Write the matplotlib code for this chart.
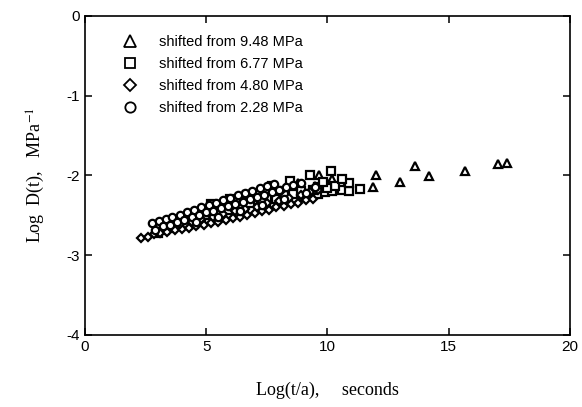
import matplotlib
matplotlib.use('Agg')
import matplotlib.pyplot as plt

# shifted from 9.48 MPa (triangles)
x_948 = [4.5, 5.0, 5.5, 6.0, 6.5, 7.0, 7.5, 8.0, 8.5, 9.0, 9.5, 10.0,
         5.3, 6.3, 7.3, 8.3, 8.8, 9.65, 10.2, 10.8,
         4.8, 5.8, 6.8, 7.8, 9.3, 6.0, 7.1, 8.6,
         11.88, 12.0, 12.99, 13.6, 14.19, 15.67, 17.03, 17.4]
y_948 = [-2.55, -2.50, -2.46, -2.42, -2.37, -2.33, -2.29, -2.25, -2.21, -2.17, -2.13, -2.10,
         -2.40, -2.32, -2.24, -2.15, -2.10, -2.00, -2.05, -2.09,
         -2.47, -2.39, -2.31, -2.21, -2.19, -2.50, -2.40, -2.27,
         -2.14, -1.99, -2.08, -1.88, -2.01, -1.94, -1.86, -1.84]

# shifted from 6.77 MPa (squares)
x_677 = [3.0, 3.3, 3.6, 3.9, 4.2, 4.5, 4.8, 5.1, 5.4, 5.7, 6.0, 6.3, 6.6, 6.9,
         7.2, 7.5, 7.8, 8.1, 8.4, 8.7, 9.0, 9.3, 9.6, 9.9, 10.2, 10.6, 10.9, 11.35,
         4.0, 4.7, 5.4, 6.1, 6.8, 7.5, 8.2, 8.9, 9.6, 10.3, 10.9,
         3.4, 4.4, 5.0, 5.9, 6.4, 7.3, 7.9, 8.6, 9.4, 10.0,
         5.2, 6.0, 6.7, 7.7, 8.45, 9.28, 10.15, 9.8, 10.6]
y_677 = [-2.72, -2.69, -2.66, -2.64, -2.62, -2.61, -2.58, -2.56, -2.53, -2.52, -2.49, -2.47, -2.46, -2.43,
         -2.41, -2.38, -2.36, -2.33, -2.31, -2.29, -2.27, -2.25, -2.23, -2.21, -2.19, -2.18, -2.20, -2.17,
         -2.55, -2.50, -2.44, -2.39, -2.34, -2.29, -2.24, -2.19, -2.15, -2.13, -2.10,
         -2.62, -2.55, -2.50, -2.43, -2.40, -2.33, -2.29, -2.23, -2.18, -2.16,
         -2.36, -2.30, -2.24, -2.13, -2.07, -2.00, -1.94, -2.08, -2.05]

# shifted from 4.80 MPa (diamonds)
x_480 = [2.3, 2.6, 2.85, 3.1, 3.4, 3.7, 4.0, 4.3, 4.6, 4.9, 5.2, 5.5, 5.8, 6.1, 6.4,
         6.7, 7.0, 7.3, 7.6, 7.9, 8.2, 8.5, 8.8, 9.1, 9.4,
         3.0, 3.5, 3.9, 4.4, 4.8, 5.3, 5.7, 6.2, 6.6, 7.1, 7.5, 8.0, 8.4, 8.9, 9.3,
         5.0, 6.0, 7.0, 8.1, 9.6]
y_480 = [-2.79, -2.77, -2.74, -2.72, -2.71, -2.69, -2.67, -2.66, -2.64, -2.62, -2.60, -2.58, -2.56, -2.54, -2.52,
         -2.50, -2.47, -2.45, -2.43, -2.40, -2.38, -2.36, -2.34, -2.31, -2.29,
         -2.65, -2.63, -2.61, -2.58, -2.55, -2.52, -2.48, -2.45, -2.42, -2.39, -2.35, -2.32, -2.28, -2.25, -2.21,
         -2.43, -2.35, -2.27, -2.20, -2.18]

# shifted from 2.28 MPa (circles)
x_228 = [2.75, 3.05, 3.35, 3.6, 3.9, 4.2, 4.5, 4.8, 5.1, 5.4, 5.7, 6.0, 6.3, 6.6, 6.9,
         7.2, 7.5, 7.8,
         2.9, 3.2, 3.5, 3.8, 4.1, 4.4, 4.7, 5.0, 5.3, 5.6, 5.9, 6.2, 6.5, 6.8, 7.1,
         7.4, 7.7, 8.0, 8.3, 8.6, 8.9, 4.6, 5.5, 6.4, 7.3, 8.2, 9.1, 9.5]
y_228 = [-2.60, -2.57, -2.55, -2.52, -2.49, -2.46, -2.43, -2.40, -2.37, -2.35, -2.31, -2.28, -2.25, -2.22, -2.19,
         -2.16, -2.13, -2.11,
         -2.68, -2.64, -2.62, -2.58, -2.56, -2.52, -2.50, -2.46, -2.45, -2.41, -2.38, -2.36, -2.33, -2.30, -2.27,
         -2.25, -2.21, -2.18, -2.15, -2.12, -2.10, -2.58, -2.52, -2.44, -2.37, -2.29, -2.22, -2.15]

labels = ['shifted from 9.48 MPa', 'shifted from 6.77 MPa',
          'shifted from 4.80 MPa', 'shifted from 2.28 MPa']

plt.rcParams['mathtext.fontset'] = 'stix'
plt.rcParams['axes.unicode_minus'] = False

fig = plt.figure(figsize=(5.82, 4.07), dpi=100)
ax = fig.add_axes([0.146, 0.177, 0.833, 0.784])

kw = dict(linestyle='none', mfc='white', mec='black', mew=1.6)
h1, = ax.plot(x_948, y_948, marker='^', markersize=5.8, label=labels[0], **kw)
h2, = ax.plot(x_677, y_677, marker='s', markersize=5.2, label=labels[1], **kw)
h3, = ax.plot(x_480, y_480, marker='D', markersize=4.4, label=labels[2], **kw)
h4, = ax.plot(x_228, y_228, marker='o', markersize=5.3, label=labels[3], **kw)

ax.set_xlim(0, 20)
ax.set_ylim(-4, 0)
ax.set_xticks([0, 5, 10, 15, 20])
ax.set_yticks([0, -1, -2, -3, -4])
ax.tick_params(direction='in', length=5, width=1.1, top=True, right=True,
               labelsize=11)
for lab in ax.get_xticklabels() + ax.get_yticklabels():
    lab.set_family('Liberation Sans')
for s in ax.spines.values():
    s.set_linewidth(1.2)

ax.set_xlabel('Log(t/a),     seconds', family='Liberation Serif', fontsize=13, labelpad=20)
ax.set_ylabel('Log  D(t),   MPa$^{-1}$', family='Liberation Serif', fontsize=13, labelpad=14)

leg = ax.legend(handles=[h1, h2, h3, h4], loc='upper left', bbox_to_anchor=(0.078, 0.94),
                frameon=False, borderpad=0, borderaxespad=0, handlelength=1.0,
                handletextpad=1.5, labelspacing=0.55, markerscale=1.4,
                prop={'family': 'Liberation Sans', 'size': 10.5})
for h in leg.legend_handles:
    h.set_markeredgewidth(1.3)
leg.legend_handles[0].set_markersize(8.5)

fig.savefig('out.png', dpi=100)
